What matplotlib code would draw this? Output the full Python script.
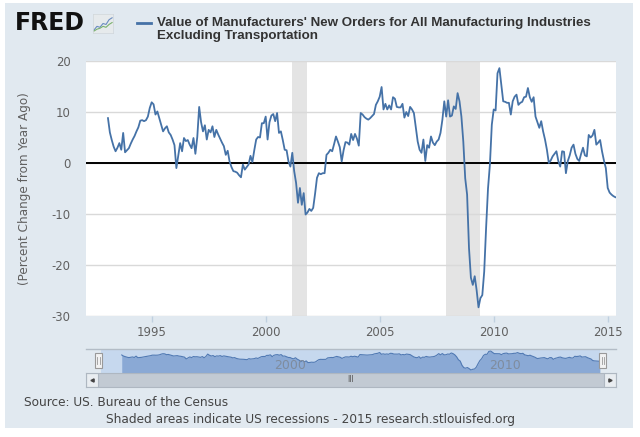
import numpy as np
import pandas as pd
import matplotlib
matplotlib.use("Agg")
import matplotlib.pyplot as plt
from matplotlib.patches import Rectangle
from matplotlib.lines import Line2D
import matplotlib.transforms as mtransforms

plt.rcParams['axes.unicode_minus'] = False
plt.rcParams['font.family'] = ['DejaVu Sans']

# ---------------- data ----------------
start_month = "1993-02-01"
values = [
    8.8, 6.0, 4.5, 3.2, 2.3, 3.0, 3.9, 2.6, 5.9, 2.1, 2.5, 2.9,
    3.8, 4.6, 5.3, 6.2, 7.0, 8.3, 8.4, 8.2, 8.4, 9.1, 10.8, 11.9,
    11.5, 9.5, 10.1, 8.8, 7.5, 6.2, 6.8, 7.2, 6.0, 5.5, 4.6, 3.5,
    -1.0, 1.5, 3.9, 2.3, 4.9, 4.3, 4.5, 3.6, 2.9, 4.9, 1.8, 5.1,
    11.0, 8.0, 6.2, 7.4, 4.6, 6.5, 6.0, 7.2, 5.1, 6.5, 5.6, 4.8,
    4.0, 3.3, 1.6, 2.4, 0.3, -0.8, -1.6, -1.7, -1.9, -2.4, -2.8, -0.3,
    -1.3, -0.8, -0.3, 1.4, 0.2, 2.5, 4.6, 5.1, 5.0, 7.8, 7.8, 9.1,
    4.6, 8.0, 9.3, 9.6, 8.2, 9.8, 5.9, 6.2, 4.5, 2.6, 2.5, 0.3,
    -0.7, 2.0, -1.6, -3.9, -7.8, -4.9, -8.2, -5.9, -10.1, -9.7, -9.0, -9.4,
    -8.8, -6.0, -2.9, -2.0, -2.2, -2.0, -2.0, 1.6, 2.0, 2.6, 2.3, 3.7,
    5.2, 4.2, 3.1, 0.3, 2.5, 4.1, 4.0, 3.6, 5.7, 4.5, 5.7, 4.8,
    3.4, 9.8, 9.5, 9.0, 8.7, 8.5, 8.8, 9.2, 9.6, 11.4, 12.1, 13.0,
    14.9, 10.5, 11.6, 10.5, 11.3, 10.5, 12.9, 12.6, 11.0, 10.9, 10.9, 11.6,
    8.9, 10.0, 9.2, 11.0, 10.5, 9.8, 7.0, 4.2, 2.6, 2.0, 4.6, 0.4,
    3.5, 3.0, 5.2, 4.0, 3.5, 4.2, 4.6, 5.9, 8.5, 12.1, 9.1, 12.3,
    9.1, 9.3, 11.1, 10.6, 13.7, 12.1, 9.1, 4.2, -3.0, -6.2, -16.7, -22.5,
    -23.9, -22.2, -24.9, -28.3, -26.5, -25.9, -21.3, -12.7, -5.0, -0.3, 7.5, 10.5,
    10.3, 17.6, 18.6, 15.4, 12.1, 12.0, 11.8, 11.8, 9.5, 12.1, 13.0, 13.4,
    11.4, 11.8, 12.0, 12.9, 13.0, 14.7, 12.9, 12.0, 12.9, 9.1, 8.0, 6.9,
    8.2, 6.2, 4.6, 2.6, 0.0, 0.5, 1.3, 1.8, 2.3, 0.4, -0.7, 2.3,
    2.2, -2.0, 0.4, 1.5, 3.0, 3.6, 1.8, 0.8, 0.4, 1.8, 3.0, 1.5,
    1.3, 5.5, 5.0, 5.4, 6.5, 3.6, 4.0, 4.5, 2.3, 0.5, -1.0, -4.9,
    -5.8, -6.2, -6.5, -6.7,
]
recessions = [("2001-03-01", "2001-11-01"), ("2007-12-01", "2009-06-01")]
y_ticks = [-30, -20, -10, 0, 10, 20]
x_ticks = [1995, 2000, 2005, 2010, 2015]
nav_labels = [2000, 2010]
x_range = (1992.12, 2015.35)
nav_range = (1991.42, 2016.07)

title_line1 = "Value of Manufacturers' New Orders for All Manufacturing Industries"
title_line2 = "Excluding Transportation"
y_label = "(Percent Change from Year Ago)"
source_txt = "Source: US. Bureau of the Census"
note_txt = "Shaded areas indicate US recessions - 2015 research.stlouisfed.org"


def dec_year(d):
    d = pd.Timestamp(d)
    return d.year + (d.month - 1) / 12.0


dates = pd.date_range(start_month, periods=len(values), freq="MS")
t = np.array([dec_year(d) for d in dates])
v = np.array(values)

# ---------------- figure ----------------
W, H = 640, 437
fig = plt.figure(figsize=(W / 100, H / 100), dpi=100)
fig.patch.set_facecolor("white")

BG = "#E1E9F0"
LINE = "#4572A7"
TXT = "#444444"


def axes_px(x0, y0, x1, y1, **kw):
    return fig.add_axes([x0 / W, 1 - y1 / H, (x1 - x0) / W, (y1 - y0) / H], **kw)


def ftext(x, y, s, **kw):
    return fig.text(x / W, 1 - y / H, s, **kw)


def fit_len(txt, target, vertical=False):
    r = fig.canvas.get_renderer()
    bb = txt.get_window_extent(r)
    cur = bb.height if vertical else bb.width
    txt.set_fontsize(txt.get_fontsize() * target / cur)


fig.patches.append(Rectangle((5 / W, 1 - 428 / H), 628 / W, (428 - 3.3) / H,
                             transform=fig.transFigure, facecolor=BG,
                             edgecolor="none", zorder=-10))

# ---------------- main plot ----------------
ax = axes_px(86, 61, 615.7, 316)
ax.set_facecolor("white")
for s, e in recessions:
    ax.axvspan(dec_year(s), dec_year(e), color="#E4E4E4", lw=0, zorder=1)
ax.axhline(0, color="black", lw=1.4, zorder=3)
ax.plot(t, v, color=LINE, lw=1.3, zorder=4, solid_joinstyle="round")
ax.set_xlim(*x_range)
ax.set_ylim(-30, 20)
ax.set_yticks(y_ticks)
ax.set_yticklabels([str(k) for k in y_ticks])
ax.set_xticks(x_ticks)
ax.set_xticklabels([str(k) for k in x_ticks])
ax.grid(axis="y", color="#D9D9D9", lw=1, zorder=2)
ax.set_axisbelow(False)
for sp in ax.spines.values():
    sp.set_visible(False)
ax.tick_params(axis="y", length=0, pad=11, labelsize=8.4, labelcolor="#606060")
ax.tick_params(axis="x", length=4.5, width=1, color="#C0D0E0", pad=2.5,
               labelsize=8.4, labelcolor="#606060")

yl = ftext(25, 188.5, y_label, rotation=90, ha="center", va="center",
           color="#606060", fontsize=8.2)

# ---------------- navigator ----------------
nav = axes_px(86, 349.3, 615.7, 372.7)
nav.set_facecolor("none")
nav.set_xlim(*nav_range)
nav.set_ylim(-35, 22.8)
nav.axvspan(x_range[0], x_range[1], color="#C6D8EE", lw=0, zorder=0)
nav.fill_between(t, v, -35, color="#8AA9D5", lw=0, zorder=1)
nav.plot(t, v, color="#5079B3", lw=0.8, zorder=2)
nav.axis("off")
off = mtransforms.offset_copy(
    mtransforms.blended_transform_factory(nav.transData, nav.transAxes),
    fig=fig, x=2.5, y=0, units="points")
for yr in nav_labels:
    nav.text(yr, 0.30, str(yr), transform=off, ha="left", va="center",
             color="#7F8C9E", fontsize=9, zorder=3)
fig.lines.append(Line2D([86 / W, 615.7 / W], [1 - 349.3 / H] * 2,
                        transform=fig.transFigure, color="#B3BCC6", lw=1))

# scrollbar
sb = axes_px(86, 372.7, 615.7, 386.7)
sb.set_facecolor("#C2CAD3")
sb.set_xticks([])
sb.set_yticks([])
for sp in sb.spines.values():
    sp.set_color("#AEB7C1")
    sp.set_linewidth(0.8)
bw = 12 / 529.7
sb.add_patch(Rectangle((0, 0), bw, 1, transform=sb.transAxes,
                       facecolor="#E9EDF1", edgecolor="#AEB7C1", lw=0.8))
sb.add_patch(Rectangle((1 - bw, 0), bw, 1, transform=sb.transAxes,
                       facecolor="#E9EDF1", edgecolor="#AEB7C1", lw=0.8))
sb.plot([bw / 2], [0.5], marker="<", ms=2.3, color="#444444", transform=sb.transAxes)
sb.plot([1 - bw / 2], [0.5], marker=">", ms=2.3, color="#444444", transform=sb.transAxes)
sb.text(0.5, 0.5, "III", transform=sb.transAxes, ha="center", va="center",
        fontsize=5.5, color="#555555")

# handles
for hx in (98.3, 602.7):
    fig.patches.append(Rectangle(((hx - 3.5) / W, 1 - 368 / H), 7 / W, 15 / H,
                                 transform=fig.transFigure, facecolor="#F2F2F2",
                                 edgecolor="#999999", lw=0.8, zorder=5))
    for dx in (-1.2, 1.2):
        fig.lines.append(Line2D([(hx + dx) / W] * 2, [1 - 364 / H, 1 - 357 / H],
                                transform=fig.transFigure, color="#999999",
                                lw=0.6, zorder=6))

# ---------------- header ----------------
logo = ftext(15, 22.5, "FRED", fontsize=18, fontweight="heavy", color="#111111",
             ha="left", va="center", family=["DejaVu Sans"])
icon = axes_px(93, 14, 113, 33)
icon.set_facecolor("#E6EAEC")
icon_a = [0.15, 0.35, 0.3, 0.5, 0.45, 0.7, 0.8]
icon_b = [0.1, 0.2, 0.25, 0.35, 0.3, 0.45, 0.55]
icon.plot(icon_a, color="#6A8CC0", lw=0.8)
icon.plot(icon_b, color="#7AB26E", lw=0.8)
icon.set_ylim(0, 1)
icon.set_xticks([])
icon.set_yticks([])
for sp in icon.spines.values():
    sp.set_color("#D0D6DA")
    sp.set_linewidth(0.5)

fig.lines.append(Line2D([137 / W, 151 / W], [1 - 22.7 / H] * 2,
                        transform=fig.transFigure, color=LINE, lw=2))
tfam = ["Liberation Sans Narrow", "Liberation Sans", "DejaVu Sans"]
t1 = ftext(157, 22.7, title_line1, fontsize=9.5, fontweight="bold", color="#333333",
           ha="left", va="center", family=tfam)
t2 = ftext(157, 36.5, title_line2, fontsize=9.5, fontweight="bold", color="#333333",
           ha="left", va="center", family=tfam)

# ---------------- footer ----------------
src = ftext(24, 402, source_txt, fontsize=8.3, color=TXT, ha="left", va="center")
note = ftext(311, 420, note_txt, fontsize=8.3, color=TXT, ha="center", va="center")

fig.canvas.draw()
fit_len(logo, 70)
fit_len(t1, 435)
t2.set_fontsize(t1.get_fontsize())
fit_len(yl, 192, vertical=True)
fit_len(src, 204)
fit_len(note, 408)

fig.savefig("out.png", dpi=100, facecolor="white")
